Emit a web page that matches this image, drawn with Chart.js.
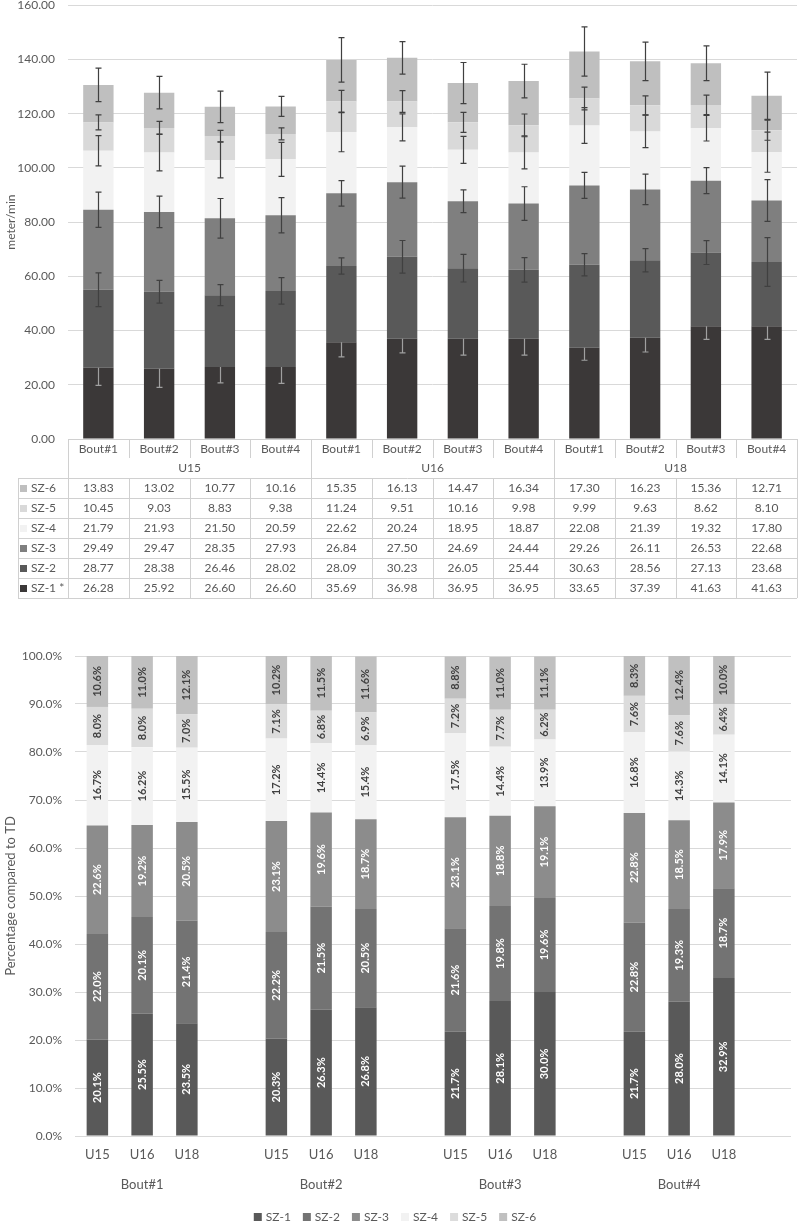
<!DOCTYPE html>
<html>
<head>
<meta charset="utf-8">
<script src="https://cdn.jsdelivr.net/npm/chart.js@4.4.1/dist/chart.umd.min.js"></script>
<style>
  html, body { margin: 0; padding: 0; background: #fff; }
  body { width: 800px; height: 1229px; overflow: hidden; position: relative; }
  #topChart { position: absolute; left: 0; top: -15px; }
  #bottomChart { position: absolute; left: 0; top: 600px; }
</style>
</head>
<body>
<canvas id="topChart" width="800" height="617"></canvas>
<canvas id="bottomChart" width="800" height="629"></canvas>
<script>
// categorías
const bouts = ['Bout#1', 'Bout#2', 'Bout#3', 'Bout#4'];
const ages = ['U15', 'U16', 'U18'];
const zones = ['SZ-1', 'SZ-2', 'SZ-3', 'SZ-4', 'SZ-5', 'SZ-6'];

// metros/min por zona (U15 B1..B4, U16 B1..B4, U18 B1..B4)
const sz1 = [26.28, 25.92, 26.60, 26.60, 35.69, 36.98, 36.95, 36.95, 33.65, 37.39, 41.63, 41.63];
const sz2 = [28.77, 28.38, 26.46, 28.02, 28.09, 30.23, 26.05, 25.44, 30.63, 28.56, 27.13, 23.68];
const sz3 = [29.49, 29.47, 28.35, 27.93, 26.84, 27.50, 24.69, 24.44, 29.26, 26.11, 26.53, 22.68];
const sz4 = [21.79, 21.93, 21.50, 20.59, 22.62, 20.24, 18.95, 18.87, 22.08, 21.39, 19.32, 17.80];
const sz5 = [10.45, 9.03, 8.83, 9.38, 11.24, 9.51, 10.16, 9.98, 9.99, 9.63, 8.62, 8.10];
const sz6 = [13.83, 13.02, 10.77, 10.16, 15.35, 16.13, 14.47, 16.34, 17.30, 16.23, 15.36, 12.71];

const sd1 = [6.5, 6.9, 5.9, 6.1, 5.4, 5.2, 6.0, 6.0, 4.6, 5.3, 4.9, 4.9];
const sd2 = [6.2, 4.2, 3.9, 4.9, 3.0, 6.0, 5.1, 4.5, 4.1, 4.3, 4.4, 9.0];
const sd3 = [6.5, 5.8, 7.3, 6.5, 4.7, 5.9, 4.2, 6.2, 4.8, 5.6, 4.8, 7.7];
const sd4 = [5.6, 6.8, 6.6, 6.3, 7.3, 5.0, 5.0, 6.1, 6.6, 6.0, 4.7, 7.4];
const sd5 = [2.8, 2.4, 2.1, 2.2, 4.1, 4.0, 3.7, 4.2, 4.2, 3.5, 3.6, 3.7];
const sd6 = [6.2, 6.0, 5.8, 3.7, 8.2, 6.0, 7.6, 6.2, 9.1, 7.1, 6.4, 8.7];

// porcentaje del TD (Bout#1 U15,U16,U18, Bout#2 ..., Bout#4 ...)
const pct1 = [20.1, 25.5, 23.5, 20.3, 26.3, 26.8, 21.7, 28.1, 30.0, 21.7, 28.0, 32.9];
const pct2 = [22.0, 20.1, 21.4, 22.2, 21.5, 20.5, 21.6, 19.8, 19.6, 22.8, 19.3, 18.7];
const pct3 = [22.6, 19.2, 20.5, 23.1, 19.6, 18.7, 23.1, 18.8, 19.1, 22.8, 18.5, 17.9];
const pct4 = [16.7, 16.2, 15.5, 17.2, 14.4, 15.4, 17.5, 14.4, 13.9, 16.8, 14.3, 14.1];
const pct5 = [8.0, 8.0, 7.0, 7.1, 6.8, 6.9, 7.2, 7.7, 6.2, 7.6, 7.6, 6.4];
const pct6 = [10.6, 11.0, 12.1, 10.2, 11.5, 11.6, 8.8, 11.0, 11.1, 8.3, 12.4, 10.0];

const yTicks = [0, 20, 40, 60, 80, 100, 120, 140, 160];
const pctTicks = [0, 10, 20, 30, 40, 50, 60, 70, 80, 90, 100];

const series = [sz1, sz2, sz3, sz4, sz5, sz6];
const sds = [sd1, sd2, sd3, sd4, sd5, sd6];
const pcts = [pct1, pct2, pct3, pct4, pct5, pct6];

const topColors = ['#3b3838', '#595959', '#7f7f7f', '#f2f2f2', '#d9d9d9', '#bfbfbf'];
const botColors = ['#595959', '#737373', '#8c8c8c', '#f2f2f2', '#dcdcdc', '#c0c0c0'];
const textColor = '#595959';
const gridColor = '#d9d9d9';
const FONT = 'Lato, "Open Sans", sans-serif';

Chart.defaults.font.family = FONT;
Chart.defaults.color = textColor;
Chart.defaults.animation = false;

// ---------- gráfico superior ----------
const topLabels = ages.flatMap(() => bouts);

// barras de error
const errorBars = {
    id: 'errorBars',
    afterDatasetsDraw(chart) {
        const { ctx, scales: { y } } = chart;
        const unit = y.getPixelForValue(0) - y.getPixelForValue(1);
        ctx.save();
        ctx.lineWidth = 1.2;
        series.forEach((vals, i) => {
            const meta = chart.getDatasetMeta(i);
            vals.forEach((v, j) => {
                const el = meta.data[j];
                const d = sds[i][j] * unit;
                const x = Math.round(el.x) + 0.5;
                const top = i === 0 ? el.y : el.y - d;
                const bot = el.y + d;
                ctx.strokeStyle = i === 0 ? '#a0a0a0' : '#404040';
                ctx.beginPath();
                ctx.moveTo(x, top); ctx.lineTo(x, bot);
                if (i !== 0) { ctx.moveTo(x - 3, top); ctx.lineTo(x + 3, top); }
                ctx.moveTo(x - 3, bot); ctx.lineTo(x + 3, bot);
                ctx.stroke();
            });
        });
        ctx.restore();
    }
};

// tabla de datos debajo del eje
const dataTable = {
    id: 'dataTable',
    afterDraw(chart) {
        const { ctx, chartArea: a, scales: { x } } = chart;
        const cw = (a.right - a.left) / topLabels.length;
        const y0 = Math.round(a.bottom);
        const tableLeft = 18;
        const line = (x1, y1, x2, y2) => { ctx.beginPath(); ctx.moveTo(x1, y1); ctx.lineTo(x2, y2); ctx.stroke(); };
        ctx.save();
        ctx.strokeStyle = '#d0d0d0';
        ctx.lineWidth = 1;
        line(a.left, y0 + 0.5, a.right, y0 + 0.5);
        for (let j = 0; j <= topLabels.length; j++) {
            const xx = Math.round(a.left + j * cw) + 0.5;
            line(xx, y0, xx, y0 + (j % 4 === 0 ? 39 : 19));
            line(xx, y0 + 39, xx, y0 + 159);
        }
        for (let k = 0; k <= 6; k++) {
            line(tableLeft, y0 + 39.5 + 20 * k, a.right, y0 + 39.5 + 20 * k);
        }
        line(tableLeft + 0.5, y0 + 39, tableLeft + 0.5, y0 + 159);

        ctx.fillStyle = textColor;
        ctx.font = '12px ' + FONT;
        ctx.textAlign = 'center';
        ctx.textBaseline = 'middle';
        topLabels.forEach((l, j) => ctx.fillText(l, x.getPixelForValue(j), y0 + 10));
        ages.forEach((g, k) => {
            const cx = (x.getPixelForValue(4 * k + 1) + x.getPixelForValue(4 * k + 2)) / 2;
            ctx.fillText(g, cx, y0 + 29);
        });
        for (let r = 0; r < 6; r++) {
            const i = 5 - r;
            const cy = y0 + 49.5 + 20 * r;
            series[i].forEach((v, j) => ctx.fillText(v.toFixed(2), x.getPixelForValue(j), cy));
            ctx.fillStyle = topColors[i];
            ctx.fillRect(20, cy - 3.5, 7, 7);
            ctx.fillStyle = textColor;
            ctx.textAlign = 'left';
            ctx.fillText(zones[i] + (i === 0 ? ' *' : ''), 31, cy);
            ctx.textAlign = 'center';
        }
        ctx.restore();
    }
};

new Chart(document.getElementById('topChart'), {
    type: 'bar',
    data: {
        labels: topLabels,
        datasets: series.map((vals, i) => ({
            label: zones[i],
            data: vals,
            backgroundColor: topColors[i],
            borderWidth: 0,
            categoryPercentage: 0.5,
            barPercentage: 1
        }))
    },
    options: {
        responsive: false,
        layout: { padding: { top: 0, bottom: 163, left: 0, right: 3 } },
        plugins: { legend: { display: false }, tooltip: { enabled: false } },
        scales: {
            x: { stacked: true, display: false, offset: true },
            y: {
                stacked: true,
                min: 0,
                max: 160,
                afterBuildTicks: s => { s.ticks = yTicks.map(v => ({ value: v })); },
                afterFit: s => { s.width = 68; },
                ticks: { padding: 13, font: { size: 12 }, callback: v => v.toFixed(2) },
                grid: { color: gridColor, drawTicks: false },
                border: { display: false },
                title: { display: true, text: 'meter/min', font: { size: 12 }, padding: { top: 4, bottom: 0 } }
            }
        }
    },
    plugins: [errorBars, dataTable]
});

// ---------- gráfico inferior ----------
const slotLabels = bouts.flatMap(() => [...ages, '']);
const toSlots = arr => bouts.flatMap((b, k) => [...arr.slice(3 * k, 3 * k + 3), null]);

const barLabels = {
    id: 'barLabels',
    afterDatasetsDraw(chart) {
        const { ctx } = chart;
        ctx.save();
        ctx.font = 'bold 11px ' + FONT;
        ctx.textAlign = 'center';
        ctx.textBaseline = 'middle';
        chart.data.datasets.forEach((ds, i) => {
            const meta = chart.getDatasetMeta(i);
            ds.data.forEach((v, j) => {
                if (v === null) return;
                const el = meta.data[j];
                ctx.save();
                ctx.translate(el.x, (el.y + el.base) / 2);
                ctx.rotate(-Math.PI / 2);
                ctx.fillStyle = i < 3 ? '#ffffff' : '#404040';
                ctx.fillText(v.toFixed(1) + '%', 0, 0);
                ctx.restore();
            });
        });
        ctx.restore();
    }
};

// etiquetas de grupo y leyenda
const groupLabels = {
    id: 'groupLabels',
    afterDraw(chart) {
        const { ctx, chartArea: a, scales: { x } } = chart;
        ctx.save();
        ctx.font = '13px ' + FONT;
        ctx.fillStyle = textColor;
        ctx.textAlign = 'center';
        ctx.textBaseline = 'middle';
        bouts.forEach((b, k) => ctx.fillText(b, x.getPixelForValue(4 * k + 1), a.bottom + 49));

        ctx.font = '12px ' + FONT;
        ctx.textAlign = 'left';
        const ly = a.bottom + 81;
        const widths = zones.map(z => 8 + 4 + ctx.measureText(z).width);
        const gap = 12;
        const total = widths.reduce((s, w) => s + w, 0) + gap * (zones.length - 1);
        let lx = 395 - total / 2;
        zones.forEach((z, i) => {
            ctx.fillStyle = botColors[i];
            ctx.fillRect(lx, ly - 4, 8, 8);
            ctx.fillStyle = textColor;
            ctx.fillText(z, lx + 12, ly);
            lx += widths[i] + gap;
        });
        ctx.restore();
    }
};

new Chart(document.getElementById('bottomChart'), {
    type: 'bar',
    data: {
        labels: slotLabels,
        datasets: pcts.map((vals, i) => ({
            label: zones[i],
            data: toSlots(vals),
            backgroundColor: botColors[i],
            borderWidth: 0,
            categoryPercentage: 0.48,
            barPercentage: 1
        }))
    },
    options: {
        responsive: false,
        layout: { padding: { top: 56, bottom: 0, left: 0, right: 9 } },
        plugins: { legend: { display: false }, tooltip: { enabled: false } },
        scales: {
            x: {
                stacked: true,
                afterFit: s => { s.height = 93; },
                ticks: { padding: 11, autoSkip: false, maxRotation: 0, font: { size: 13 } },
                grid: { display: false, drawTicks: false },
                border: { display: false }
            },
            y: {
                stacked: true,
                min: 0,
                max: 100,
                afterBuildTicks: s => { s.ticks = pctTicks.map(v => ({ value: v })); },
                afterFit: s => { s.width = 75; },
                ticks: { padding: 13, font: { size: 12 }, callback: v => v.toFixed(1) + '%' },
                grid: { color: gridColor, drawTicks: false },
                border: { display: false },
                title: { display: true, text: 'Percentage compared to TD', font: { size: 13 }, padding: { top: 3, bottom: 0 } }
            }
        }
    },
    plugins: [barLabels, groupLabels]
});
</script>
</body>
</html>
